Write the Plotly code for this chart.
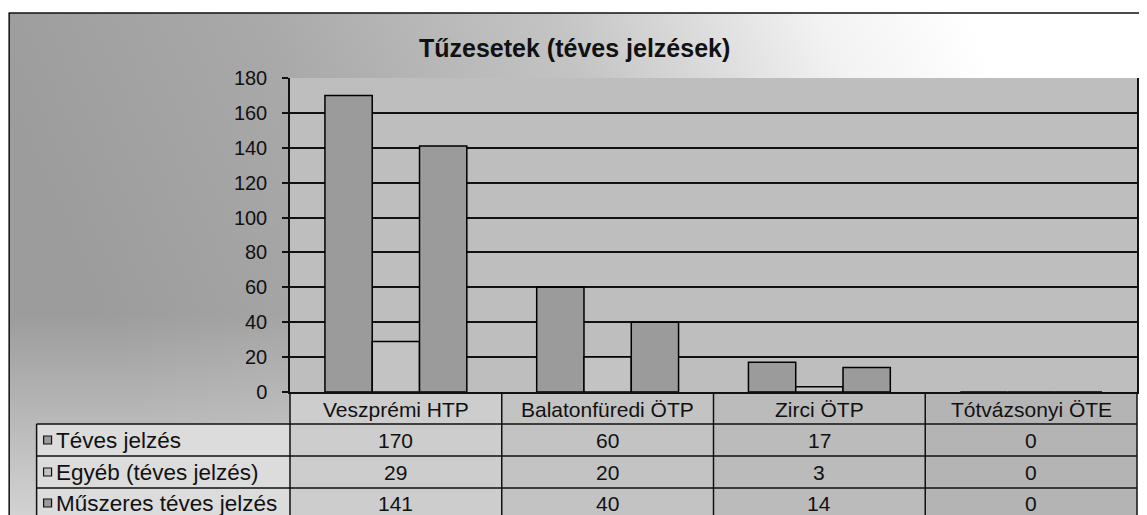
import base64
import plotly.graph_objects as go

# ---- data ----
categories = ["Veszprémi HTP", "Balatonfüredi ÖTP", "Zirci ÖTP", "Tótvázsonyi ÖTE"]
series_names = ["Téves jelzés", "Egyéb (téves jelzés)", "Műszeres téves jelzés"]
teves = [170, 60, 17, 0]
egyeb = [29, 20, 3, 0]
muszeres = [141, 40, 14, 0]
y_ticks = [0, 20, 40, 60, 80, 100, 120, 140, 160, 180]
title_text = "Tűzesetek (téves jelzések)"

series_values = [teves, egyeb, muszeres]
bar_colors = ["#9b9b9b", "#c3c3c3", "#9b9b9b"]

# the page body has an 8px margin: the figure sits at page (8, 8)
OFF = 8
W, H = 1147 - OFF, 515 - OFF
L, R, T, B = 290 - OFF, 8, 78 - OFF, 123
PW, PH = W - L - R, H - T - B


def px(xp):  # page pixel x -> paper
    return (xp - OFF - L) / PW


def py(yp):  # page pixel y -> paper
    return (H - B - (yp - OFF)) / PH


FONT = "Liberation Sans, Arial, sans-serif"

fig = go.Figure()
for name, vals, col in zip(series_names, series_values, bar_colors):
    fig.add_trace(go.Bar(
        x=categories, y=vals, name=name,
        marker=dict(color=col, line=dict(color="#000000", width=1.5)),
        showlegend=False,
    ))

# background gradient (decoration), in figure pixels
fx0, fy0 = 8 - OFF, 13 - OFF
svg = f'''<svg xmlns="http://www.w3.org/2000/svg" width="{W}" height="{H}" viewBox="0 0 {W} {H}">
<defs>
<linearGradient id="g" x1="0" y1="0.2" x2="1" y2="0">
<stop offset="0" stop-color="#9c9c9c"/>
<stop offset="0.25" stop-color="#a9a9a9"/>
<stop offset="0.5" stop-color="#c4c4c4"/>
<stop offset="0.72" stop-color="#f2f2f2"/>
<stop offset="0.85" stop-color="#ffffff"/>
</linearGradient>
<linearGradient id="h" x1="0" y1="0" x2="0" y2="1">
<stop offset="0.6" stop-color="#ffffff" stop-opacity="0"/>
<stop offset="1" stop-color="#ffffff" stop-opacity="0.55"/>
</linearGradient>
</defs>
<rect x="0" y="0" width="{W}" height="{H}" fill="#ffffff"/>
<rect x="{fx0}" y="{fy0}" width="{W-fx0}" height="{H-fy0}" fill="url(#g)"/>
<rect x="{fx0}" y="{fy0}" width="{W-fx0}" height="{H-fy0}" fill="url(#h)"/>
</svg>'''
uri = "data:image/svg+xml;base64," + base64.b64encode(svg.encode()).decode()

images = [dict(source=uri, xref="paper", yref="paper", x=-L / PW, y=(H - B) / PH,
               sizex=W / PW, sizey=H / PH, sizing="stretch",
               xanchor="left", yanchor="top", layer="below")]

LW = 1.5
LC = "#111111"
shapes = []
# plot area fill
shapes.append(dict(type="rect", xref="paper", yref="paper", x0=0, x1=1, y0=0, y1=1,
                   fillcolor="#bebebe", line=dict(width=0), layer="below"))
# table fills
row_lines = [392, 424, 456, 488, 530]
x_leftcol = 36
shapes.append(dict(type="rect", xref="paper", yref="paper", x0=px(x_leftcol), x1=0,
                   y0=py(530), y1=py(424), fillcolor="#dcdcdc", line=dict(width=0), layer="below"))
col_fills = ["#cdcdcd", "#c3c3c3", "#bbbbbb", "#b4b4b4"]
for i, c in enumerate(col_fills):
    shapes.append(dict(type="rect", xref="x", yref="paper", x0=i - 0.5, x1=i + 0.5,
                       y0=py(530), y1=py(392), fillcolor=c, line=dict(width=0), layer="below"))
# table lines
for yl in row_lines[1:-1]:
    shapes.append(dict(type="line", xref="paper", yref="paper", x0=px(x_leftcol), x1=1,
                       y0=py(yl), y1=py(yl), line=dict(color=LC, width=LW)))
shapes.append(dict(type="line", xref="paper", yref="paper", x0=px(x_leftcol), x1=px(x_leftcol),
                   y0=py(424), y1=py(530), line=dict(color=LC, width=LW)))
shapes.append(dict(type="line", xref="paper", yref="paper", x0=0, x1=0,
                   y0=0, y1=py(530), line=dict(color=LC, width=LW)))
shapes.append(dict(type="line", xref="paper", yref="paper", x0=1, x1=1,
                   y0=0, y1=py(530), line=dict(color=LC, width=LW)))
for i in range(1, len(categories)):
    shapes.append(dict(type="line", xref="x", yref="paper", x0=i - 0.5, x1=i - 0.5,
                       y0=0, y1=py(530), line=dict(color=LC, width=LW)))
# outer frame (top and left)
shapes.append(dict(type="line", xref="paper", yref="paper", x0=px(8), x1=px(1150),
                   y0=py(13), y1=py(13), line=dict(color=LC, width=LW)))
shapes.append(dict(type="line", xref="paper", yref="paper", x0=px(8.5), x1=px(8.5),
                   y0=py(13), y1=py(530), line=dict(color=LC, width=LW)))
# legend keys in table
row_centers = [440, 472, 503]
for col, yc in zip(bar_colors, row_centers):
    shapes.append(dict(type="rect", xref="paper", yref="paper", x0=px(43), x1=px(51),
                       y0=py(yc + 4), y1=py(yc - 4), fillcolor=col,
                       line=dict(color=LC, width=1.2)))

annotations = []
annotations.append(dict(text=title_text, xref="paper", yref="paper", x=px(575), y=py(48),
                        xanchor="center", yanchor="middle", showarrow=False,
                        font=dict(family=FONT, size=25, color=LC, weight="bold")))
TF = 21
for cat in categories:
    annotations.append(dict(text=cat, xref="x", yref="paper", x=cat, y=py(409),
                            xanchor="center", yanchor="middle", showarrow=False,
                            font=dict(family=FONT, size=TF, color=LC)))
for name, vals, yc in zip(series_names, series_values, row_centers):
    annotations.append(dict(text=name, xref="paper", yref="paper", x=px(53), y=py(yc),
                            xanchor="left", yanchor="middle", showarrow=False,
                            font=dict(family=FONT, size=22.5, color=LC)))
    for cat, v in zip(categories, vals):
        annotations.append(dict(text=str(v), xref="x", yref="paper", x=cat, y=py(yc),
                                xanchor="center", yanchor="middle", showarrow=False,
                                font=dict(family=FONT, size=TF, color=LC)))

fig.update_layout(
    width=W, height=H, autosize=False,
    margin=dict(l=L, r=R, t=T, b=B, pad=0),
    paper_bgcolor="rgba(0,0,0,0)", plot_bgcolor="rgba(0,0,0,0)",
    barmode="group", bargap=0.33, bargroupgap=0,
    images=images, shapes=shapes, annotations=annotations,
    font=dict(family=FONT, color=LC),
    xaxis=dict(type="category", range=[-0.5, len(categories) - 0.5], showticklabels=False,
               showgrid=False, showline=True, linecolor=LC, linewidth=LW,
               ticks="", zeroline=False, fixedrange=True),
    yaxis=dict(range=[0, 180], tickvals=y_ticks, ticks="outside", ticklen=6,
               tickcolor=LC, tickwidth=LW, showgrid=True, gridcolor=LC,
               gridwidth=LW, showline=True, linecolor=LC, linewidth=LW,
               mirror=True, zeroline=False, tickfont=dict(family=FONT, size=20, color=LC),
               ticklabelstandoff=11, fixedrange=True),
)

fig.write_html("out.html")
